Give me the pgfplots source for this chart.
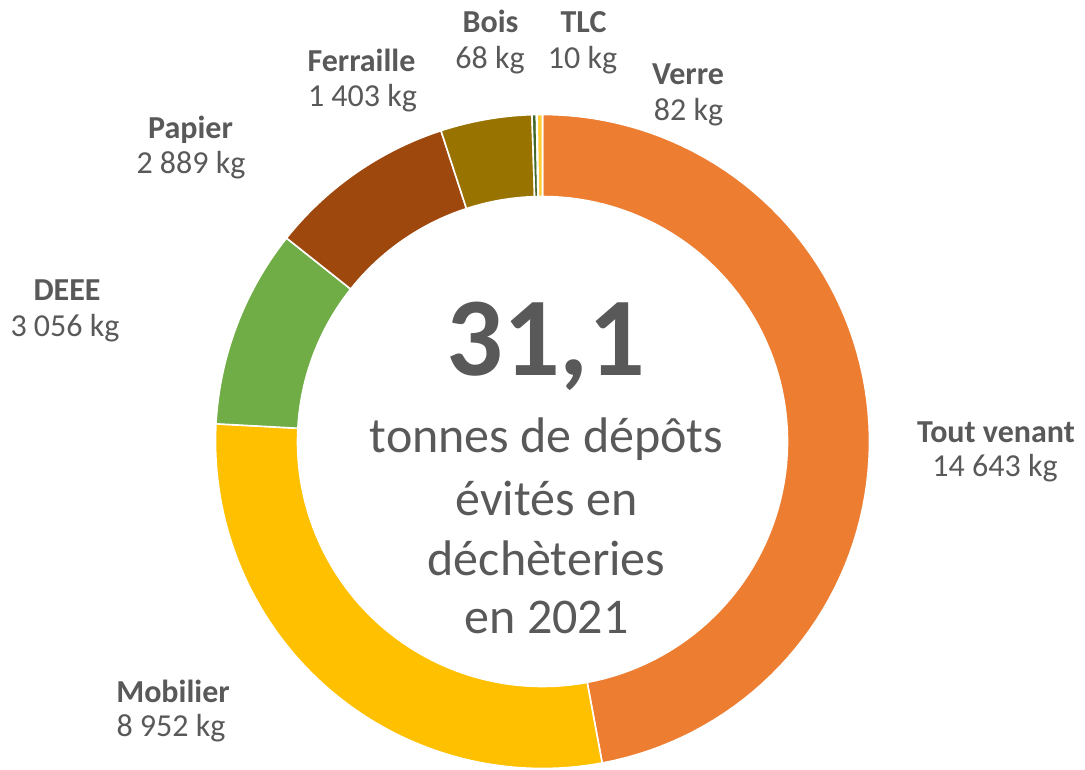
\documentclass[border=0pt]{standalone}
\usepackage{fontspec}
\setmainfont{Carlito}
\usepackage{pgfplots}
\usepackage{pgfplotstable}
\pgfplotsset{compat=1.18}
\definecolor{txt}{HTML}{595959}
\definecolor{c0}{HTML}{ED7D31}
\definecolor{c1}{HTML}{FFC000}
\definecolor{c2}{HTML}{70AD47}
\definecolor{c3}{HTML}{9E480E}
\definecolor{c4}{HTML}{997300}
\definecolor{c5}{HTML}{43682B}
\definecolor{c6}{HTML}{F1975A}
\definecolor{c7}{HTML}{FFCD33}

\pgfplotstableread{
name value
ToutVenant 14643
Mobilier 8952
DEEE 3056
Papier 2889
Ferraille 1403
Bois 68
TLC 10
Verre 82
}\datatable

\xdef\total{0}
\foreach \i in {0,...,7}{%
  \pgfplotstablegetelem{\i}{value}\of\datatable
  \xdef\total{\fpeval{\total+\pgfplotsretval}}%
}
\xdef\cum{0}
\foreach \i in {0,...,7}{%
  \pgfplotstablegetelem{\i}{value}\of\datatable
  \edef\va{\fpeval{90-360*\cum/\total}}%
  \edef\vc{\fpeval{\cum+\pgfplotsretval}}%
  \edef\vb{\fpeval{90-360*\vc/\total}}%
  \expandafter\xdef\csname angS\i\endcsname{\va}%
  \expandafter\xdef\csname angE\i\endcsname{\vb}%
  \xdef\cum{\vc}%
}
\newcommand\angStart[1]{\csname angS#1\endcsname}
\newcommand\angEnd[1]{\csname angE#1\endcsname}

\begin{document}
\begin{tikzpicture}
\begin{axis}[
  width=542.5pt, height=384.5pt, scale only axis,
  xmin=0, xmax=1085, ymin=0, ymax=769,
  hide axis, clip=false,
]
\path (rel axis cs:0,0) rectangle (rel axis cs:1,1);
\pgfplotsinvokeforeach{0,...,7}{
  \addplot[fill=c#1, draw=white, line width=0.8pt, domain=0:3, samples=241, variable=\t]
  ({542.5+(327-82*min(max(\t-1,0),1))*cos(\angStart{#1}+(\angEnd{#1}-\angStart{#1})*min(\t,1)+(\angStart{#1}-\angEnd{#1})*max(\t-2,0))},
   {327.5+(327-82*min(max(\t-1,0),1))*sin(\angStart{#1}+(\angEnd{#1}-\angStart{#1})*min(\t,1)+(\angStart{#1}-\angEnd{#1})*max(\t-2,0))}) -- cycle;
}
\tikzset{nm/.style={anchor=base, inner sep=0pt, text=txt, font=\bfseries\fontsize{16}{19}\selectfont},
         vl/.style={anchor=base, inner sep=0pt, text=txt, font=\fontsize{16}{19}\selectfont}}
\node[nm] at (axis cs:996,327) {Tout venant};
\node[vl] at (axis cs:995,292.5) {14 643 kg};
\node[nm] at (axis cs:173,67) {Mobilier};
\node[vl] at (axis cs:171,33) {8 952 kg};
\node[nm] at (axis cs:67,469) {DEEE};
\node[vl] at (axis cs:65,432.5) {3 056 kg};
\node[nm] at (axis cs:190.5,630.5) {Papier};
\node[vl] at (axis cs:191,595) {2 889 kg};
\node[nm] at (axis cs:361.5,697) {Ferraille};
\node[vl] at (axis cs:362.5,662.5) {1 403 kg};
\node[nm] at (axis cs:490.5,736) {Bois};
\node[vl] at (axis cs:490,700) {68 kg};
\node[nm] at (axis cs:583.5,736) {TLC};
\node[vl] at (axis cs:582.5,700) {10 kg};
\node[nm] at (axis cs:688,684) {Verre};
\node[vl] at (axis cs:688.5,648) {82 kg};
\node[anchor=base, inner sep=0pt, text=txt, font=\bfseries\fontsize{56}{60}\selectfont] at (axis cs:546,394) {31,1};
\tikzset{ct/.style={anchor=base, inner sep=0pt, text=txt, font=\fontsize{25}{30}\selectfont}}
\node[ct] at (axis cs:546.5,317) {tonnes de dépôts};
\node[ct] at (axis cs:546.5,254) {évités en};
\node[ct] at (axis cs:546.5,194) {déchèteries};
\node[ct] at (axis cs:546.5,136) {en 2021};
\end{axis}
\end{tikzpicture}
\end{document}
